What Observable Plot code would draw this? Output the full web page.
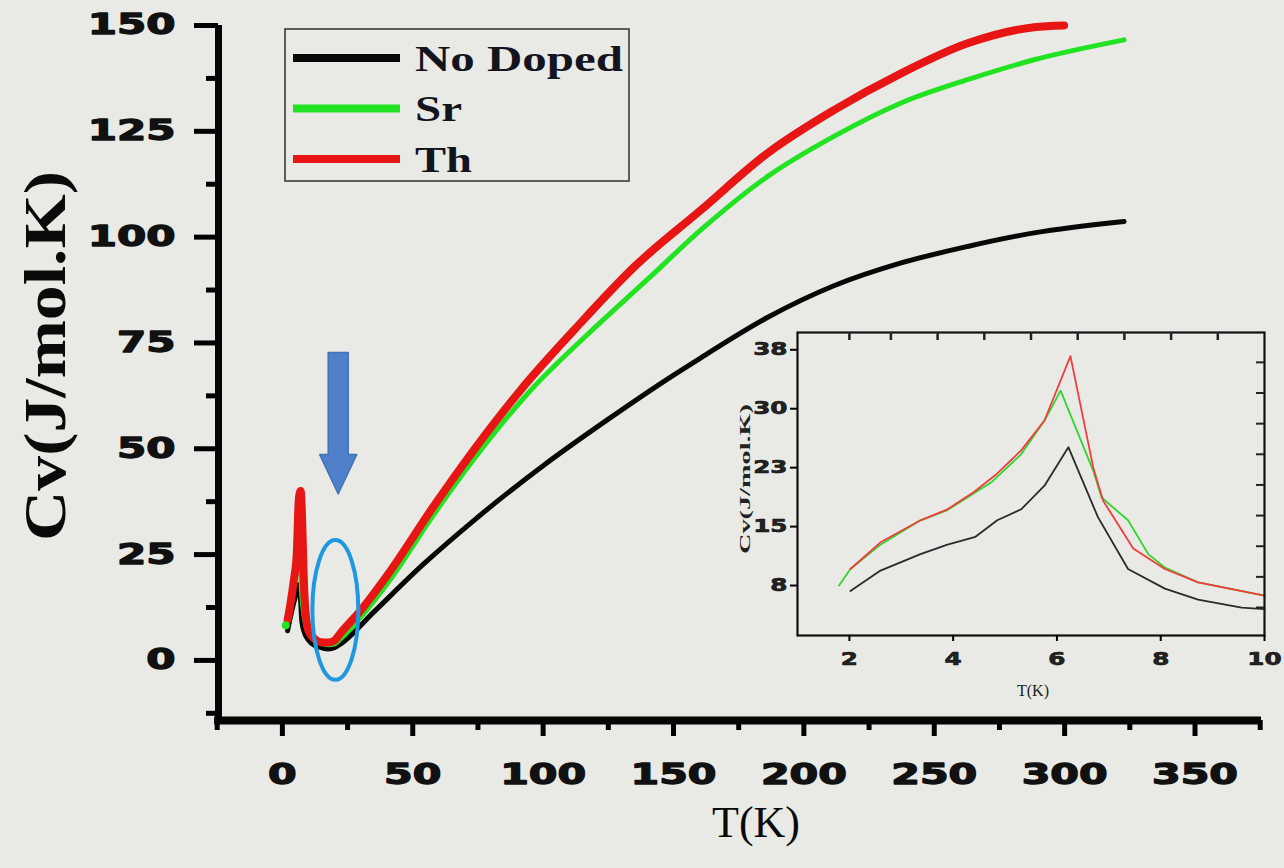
<!DOCTYPE html>
<html><head><meta charset="utf-8">
<script src="https://cdn.jsdelivr.net/npm/d3@7"></script>
<script src="https://cdn.jsdelivr.net/npm/@observablehq/plot@0.6"></script>
<style>
html,body{margin:0;padding:0;background:#e9eae5;}
#wrap{position:relative;width:1284px;height:868px;overflow:hidden;background:#e9eae5;}
#inset{position:absolute;left:730px;top:320px;}
</style></head><body><div id="wrap"><div id="inset"></div></div>
<script>
// ---------- data ----------
const seriesNames = ["No Doped", "Sr", "Th"];
const seriesColors = ["#080808", "#22e322", "#e81515"];
const insetColors = ["#2a2a2a", "#2fd62f", "#f23c3c"];

// main chart (T in K, Cv in J/mol.K)
const mainBlackT  = [2, 3, 4.4, 5.5, 6.5, 7.5, 8.5, 10, 12.5, 15, 17.5, 20, 22.4, 35, 54.4, 73.5, 100, 125, 149, 160.5, 186, 211.5, 237.3, 262.8, 288.3, 322.8];
const mainBlackCv = [7, 10, 13.7, 16, 18, 9, 6.5, 4.8, 3.5, 3.0, 2.7, 3.0, 3.9, 11.4, 22.9, 33.1, 46, 57, 67, 71.5, 81, 88.5, 93.9, 97.8, 101, 103.7];
const mainGreenT  = [1.3, 2, 3, 4, 5.3, 6.1, 7.4, 8.5, 10, 12.5, 15, 17.5, 20, 22.1, 30, 41.6, 57, 73.4, 94, 117, 140, 160.5, 186, 211.5, 237.3, 262.8, 288.3, 322.8];
const mainGreenCv = [8.3, 9.6, 13.5, 17, 24, 32, 15.8, 9.8, 6.5, 4.8, 4.0, 3.7, 3.9, 5.0, 10.2, 19.3, 33.5, 47.5, 63, 77, 90, 101.7, 114.3, 123.8, 131.7, 137.2, 141.9, 146.6];
const mainRedT    = [2, 3, 4.4, 5.5, 6.3, 7, 8.5, 10, 12.5, 14.7, 17.5, 20, 22.1, 30, 41.6, 57, 73.4, 91.4, 111.8, 135, 160.5, 186, 211.5, 237.3, 262.8, 288.3, 299.8];
const mainRedCv   = [9.6, 13, 19, 25, 38, 40, 15, 7, 5, 4.3, 4.2, 4.7, 6.3, 11.8, 21.3, 35.5, 49.7, 63.9, 78, 93, 106.4, 119.8, 130, 138.7, 145.8, 149.6, 150];

// inset (2-10 K)
const insetBlackT  = [2.02, 2.6, 3.37, 3.89, 4.43, 4.85, 5.31, 5.76, 6.22, 6.79, 7.37, 8.08, 8.72, 9.56, 10];
const insetBlackCv = [6.8, 9.4, 11.5, 12.7, 13.7, 15.8, 17.2, 20.2, 25.1, 16.2, 9.6, 7.1, 5.7, 4.7, 4.5];
const insetGreenT  = [1.8, 2.02, 2.6, 3.37, 3.89, 4.73, 5.31, 5.76, 6.07, 6.70, 6.86, 7.37, 7.76, 8.08, 8.72, 10];
const insetGreenCv = [7.5, 9.6, 12.7, 15.8, 17.1, 20.6, 24.2, 28.5, 32.3, 22.1, 18.7, 15.8, 11.5, 9.8, 7.9, 6.2];
const insetRedT    = [2.02, 2.6, 3.37, 3.89, 4.4, 4.84, 5.31, 5.76, 6.26, 6.70, 6.89, 7.47, 8.08, 8.72, 10];
const insetRedCv   = [9.6, 13.0, 15.8, 17.2, 19.4, 21.7, 24.7, 28.5, 36.7, 22.5, 18.3, 12.2, 9.6, 7.9, 6.2];

// ticks
const xTicks = [0, 50, 100, 150, 200, 250, 300, 350];
const xMinor = [-25, 25, 75, 125, 175, 225, 275, 325, 375];
const yTicks = [0, 25, 50, 75, 100, 125, 150];
const yMinor = [-12.5, 12.5, 37.5, 62.5, 87.5, 112.5, 137.5];
const insetXTicks = [2, 4, 6, 8, 10];
const insetYTicks = [7.5, 15, 22.5, 30, 37.5];
const insetTopTicks = [2.0, 2.8, 3.7, 4.6, 5.5, 6.4, 7.3, 8.2, 9.1];
const insetRightTicks = [4.7, 8.6, 12.5, 16.4, 20.3, 24.2, 28.1, 32.0, 35.9];

// annotations (data units)
const arrowT = 21.6, arrowTopCv = 72.6, arrowHeadCv = 48.5, arrowTipCv = 39.2;
const ellT = 20.5, ellCv = 11.8, ellRT = 8.8, ellRCv = 16.5;

// ---------- helpers ----------
const rows = (T, C, s) => T.map((t, i) => ({T: t, Cv: C[i], series: s}));
function stretchBy(root, selector, k, sw) {
  root.querySelectorAll(selector).forEach(el => {
    const L = el.getComputedTextLength();
    if (L > 0) {
      el.setAttribute("textLength", L * k);
      el.setAttribute("lengthAdjust", "spacingAndGlyphs");
      if (sw) { el.setAttribute("stroke", "#111"); el.setAttribute("stroke-width", sw); el.setAttribute("stroke-linejoin", "round"); }
    }
  });
}
function setLengthByText(root, content, L) {
  root.querySelectorAll("text").forEach(el => {
    if (el.textContent === content) {
      el.setAttribute("textLength", L);
      el.setAttribute("lengthAdjust", "spacingAndGlyphs");
    }
  });
}

const xDomain = [-24.5, 375.5], yDomain = [-14.2, 150];
const W = 1284, H = 868, mL = 218, mR = 23, mT = 25, mB = 148;

const annotationMark = (index, scales) => {
  const sx = typeof scales.x === "function" ? scales.x : d3.scaleLinear(xDomain, [mL, W - mR]);
  const sy = typeof scales.y === "function" ? scales.y : d3.scaleLinear(yDomain, [H - mB, mT]);
  const g = d3.create("svg:g");
  const cx = sx(arrowT), yTop = sy(arrowTopCv), yHead = sy(arrowHeadCv), yTip = sy(arrowTipCv);
  const sw = 10, hw = 18.5;
  g.append("path")
    .attr("d", `M${cx - sw},${yTop}L${cx + sw},${yTop}L${cx + sw},${yHead}L${cx + hw},${yHead}L${cx},${yTip}L${cx - hw},${yHead}L${cx - sw},${yHead}Z`)
    .attr("fill", "#4f80c9").attr("stroke", "#4372b8").attr("stroke-width", 1.5).attr("stroke-linejoin", "round");
  g.append("ellipse")
    .attr("cx", sx(ellT)).attr("cy", sy(ellCv))
    .attr("rx", Math.abs(sx(ellT + ellRT) - sx(ellT)))
    .attr("ry", Math.abs(sy(ellCv + ellRCv) - sy(ellCv)))
    .attr("fill", "none").attr("stroke", "#1f97e3").attr("stroke-width", 4);
  return g.node();
};

const tickFont = "DejaVu Sans, Liberation Sans, sans-serif";
const serif = "Liberation Serif, DejaVu Serif, serif";

// ---------- main chart ----------
const main = Plot.plot({
  width: W, height: H,
  marginLeft: mL, marginRight: mR, marginTop: mT, marginBottom: mB,
  style: {background: "transparent", overflow: "visible"},
  x: {domain: xDomain, label: null},
  y: {domain: yDomain, label: null},
  marks: [
    Plot.line(rows(mainBlackT, mainBlackCv, seriesNames[0]), {x: "T", y: "Cv", stroke: seriesColors[0], strokeWidth: 5, curve: "monotone-x"}),
    Plot.line(rows(mainGreenT, mainGreenCv, seriesNames[1]), {x: "T", y: "Cv", stroke: seriesColors[1], strokeWidth: 5, curve: "monotone-x"}),
    Plot.line(rows(mainRedT, mainRedCv, seriesNames[2]), {x: "T", y: "Cv", stroke: seriesColors[2], strokeWidth: 8, curve: "monotone-x"}),
    Plot.dot(rows([mainGreenT[0]], [mainGreenCv[0]], seriesNames[1]), {x: "T", y: "Cv", r: 4, fill: seriesColors[1]}),
    Plot.axisY({ticks: yTicks, tickSize: 24, tickPadding: 19, strokeWidth: 5, fontSize: 28, fontWeight: "bold", fontFamily: tickFont, fill: "#111", label: null, tickFormat: d => String(d)}),
    Plot.axisY({ticks: yMinor, tickSize: 12, strokeWidth: 5, label: null, tickFormat: () => ""}),
    Plot.axisX({ticks: xTicks, tickSize: 16, tickPadding: 28, strokeWidth: 5, fontSize: 28, fontWeight: "bold", fontFamily: tickFont, fill: "#111", label: null, tickFormat: d => String(d)}),
    Plot.axisX({ticks: xMinor, tickSize: 10, strokeWidth: 5, label: null, tickFormat: () => ""}),
    Plot.ruleX([xDomain[0]], {stroke: "#050505", strokeWidth: 7}),
    Plot.ruleY([yDomain[0]], {stroke: "#050505", strokeWidth: 8, x1: xDomain[0] - 1.5, x2: xDomain[1]}),
    Plot.text(["Cv(J/mol.K)"], {frameAnchor: "left", textAnchor: "middle", lineAnchor: "middle", dx: -173, dy: -17, rotate: -90, fontSize: 60, fontWeight: "bold", fontFamily: serif, fill: "#0a0a0a"}),
    Plot.text(["T(K)"], {frameAnchor: "bottom", lineAnchor: "middle", dx: 16, dy: 102, fontSize: 44, fontFamily: serif, fill: "#0a0a0a"}),
    annotationMark
  ]
});
const wrap = document.getElementById("wrap");
wrap.insertBefore(main, wrap.firstChild);
main.style.position = "absolute"; main.style.left = "0px"; main.style.top = "0px";

stretchBy(main, 'g[aria-label="y-axis tick label"] text', 1.5, 1.3);
stretchBy(main, 'g[aria-label="x-axis tick label"] text', 1.47, 1.3);
setLengthByText(main, "Cv(J/mol.K)", 370);

// legend
const lg = d3.select(main).append("g").attr("aria-label", "legend");
lg.append("rect").attr("x", 285).attr("y", 29).attr("width", 344).attr("height", 152)
  .attr("fill", "none").attr("stroke", "#3a3a3a").attr("stroke-width", 1.6);
const legendLen = [208, 47, 57];
seriesNames.forEach((name, i) => {
  const yy = 58 + i * 50.5;
  lg.append("line").attr("x1", 293).attr("x2", 400).attr("y1", yy).attr("y2", yy)
    .attr("stroke", seriesColors[i]).attr("stroke-width", 8);
  lg.append("text").attr("x", 415).attr("y", yy + 12.5).attr("text-anchor", "start")
    .attr("font-family", serif).attr("font-weight", "bold").attr("font-size", 36)
    .attr("fill", "#14141e").attr("textLength", legendLen[i]).attr("lengthAdjust", "spacingAndGlyphs")
    .text(name);
});

// ---------- inset ----------
const iW = 554, iH = 380, iL = 67, iR = 20, iT = 12, iB = 65;
const inset = Plot.plot({
  width: iW, height: iH,
  marginLeft: iL, marginRight: iR, marginTop: iT, marginBottom: iB,
  style: {background: "transparent", overflow: "visible"},
  x: {domain: [1, 10], label: null},
  y: {domain: [1.14, 39.7], label: null},
  marks: [
    Plot.line(rows(insetBlackT, insetBlackCv, seriesNames[0]), {x: "T", y: "Cv", stroke: insetColors[0], strokeWidth: 1.8}),
    Plot.line(rows(insetGreenT, insetGreenCv, seriesNames[1]), {x: "T", y: "Cv", stroke: insetColors[1], strokeWidth: 1.8}),
    Plot.line(rows(insetRedT, insetRedCv, seriesNames[2]), {x: "T", y: "Cv", stroke: insetColors[2], strokeWidth: 1.8}),
    Plot.frame({stroke: "#111", strokeWidth: 2.2}),
    Plot.axisY({ticks: insetYTicks, tickSize: 7, tickPadding: 3, strokeWidth: 2, fontSize: 17, fontWeight: "bold", fontFamily: tickFont, fill: "#222", label: null, tickFormat: d => String(Math.round(d))}),
    Plot.axisX({ticks: insetXTicks, tickSize: 6, tickPadding: 11, strokeWidth: 2, fontSize: 17, fontWeight: "bold", fontFamily: tickFont, fill: "#222", label: null, tickFormat: d => String(d)}),
    Plot.tickY(insetRightTicks, {y: d => d, stroke: "#222", strokeWidth: 2, insetLeft: iW - iL - iR - 8}),
    Plot.tickX(insetTopTicks, {x: d => d, stroke: "#222", strokeWidth: 2.5, insetBottom: iH - iT - iB - 8}),
    Plot.text(["Cv(J/mol.K)"], {frameAnchor: "left", textAnchor: "middle", lineAnchor: "middle", dx: -52, dy: -5, rotate: -90, fontSize: 14, fontWeight: "bold", fontFamily: serif, fill: "#222"}),
    Plot.text(["T(K)"], {frameAnchor: "bottom", lineAnchor: "middle", dx: 2, dy: 55, fontSize: 16, fontFamily: serif, fill: "#222"})
  ]
});
document.getElementById("inset").appendChild(inset);
stretchBy(inset, 'g[aria-label="y-axis tick label"] text', 1.45, 0.6);
stretchBy(inset, 'g[aria-label="x-axis tick label"] text', 1.45, 0.6);
setLengthByText(inset, "Cv(J/mol.K)", 150);
</script>
</body></html>
